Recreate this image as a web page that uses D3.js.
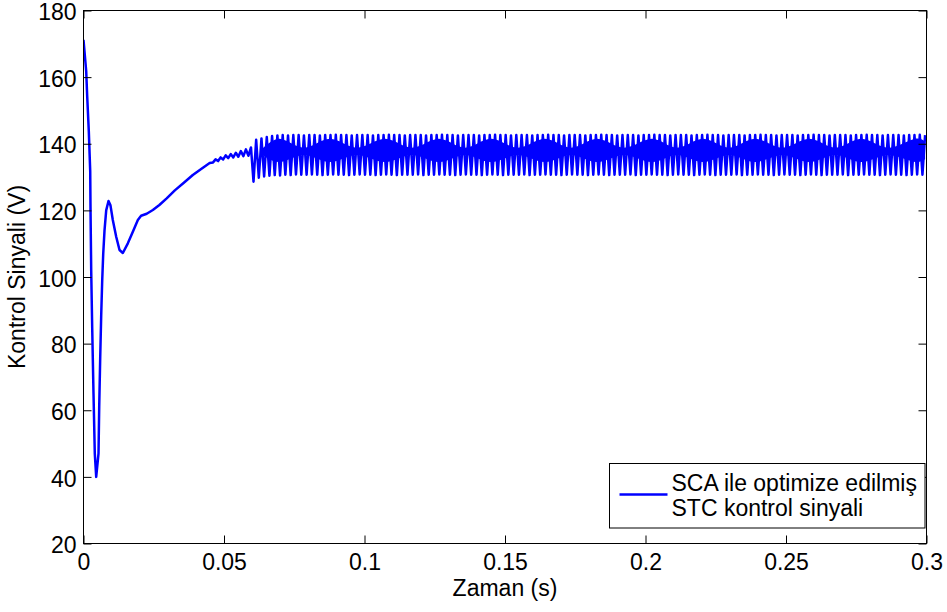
<!DOCTYPE html>
<html>
<head>
<meta charset="utf-8">
<script src="https://cdn.jsdelivr.net/npm/d3@7"></script>
<style>
  body { margin: 0; background: #fff; }
  text { font-family: Arial, "Liberation Sans", Helvetica, sans-serif; }
</style>
</head>
<body>
<div id="chart"></div>
<script>
const xTicks = [0, 0.05, 0.1, 0.15, 0.2, 0.25, 0.3];
const yTicks = [20, 40, 60, 80, 100, 120, 140, 160, 180];

// transient part of the control signal (0 - 0.06 s)
const transientTime = [
  0, 0.00096, 0.00132, 0.00189, 0.00239, 0.00249, 0.00274, 0.0031, 0.00356, 0.00402,
  0.00452, 0.00534, 0.00559, 0.00595, 0.0063, 0.00666, 0.00702, 0.00748, 0.00808, 0.0089,
  0.0096, 0.01043, 0.01164, 0.01282, 0.014, 0.01578, 0.01756, 0.01934, 0.0205, 0.0225,
  0.02468, 0.027, 0.0296, 0.0325, 0.0356, 0.0389, 0.042, 0.0449, 0.0461, 0.047,
  0.0479, 0.0488, 0.0497, 0.0506, 0.0515, 0.0524, 0.0533, 0.0542, 0.0551, 0.056,
  0.0569, 0.0578, 0.0587, 0.0596
];
const transientValue = [
  171.2, 161.8, 154.2, 143.7, 131.7, 121, 102, 84.6, 65, 47,
  40, 47, 61, 76, 88.5, 99, 107, 114, 120, 122.8,
  121.5, 117.1, 112.1, 108.1, 107.2, 110.1, 113.6, 117.1, 118.4, 119,
  120.1, 121.6, 123.6, 126, 128.2, 130.6, 132.5, 134.2, 134.4, 135.3,
  134.8, 135.9, 135.3, 136.5, 135.7, 136.9, 135.9, 137.3, 136.1, 137.8,
  136.3, 138.3, 136.4, 138.9
];

// steady-state oscillation: one low/high pair per cycle (0.0605 - 0.2995 s)
const oscStart = 0.0605;
const oscEnd = 0.2995;
const oscLow = [
  128.6, 129.8, 130.2, 130.4, 130.6, 130.5, 130.7, 130.6, 130.8, 130.7,
  130.7, 130.8, 130.7, 130.6, 130.7, 130.8, 130.7, 130.7, 130.6, 130.7,
  130.8, 130.7, 130.7, 130.6, 130.7, 130.8, 130.7, 130.6, 130.7, 130.7,
  130.7, 130.8, 130.6, 130.7, 130.7, 130.8, 130.7, 130.7, 130.6, 130.7,
  130.8, 130.7, 130.7, 130.6, 130.7, 130.8, 130.7, 130.6, 130.7, 130.7,
  130.7, 130.8, 130.6, 130.7, 130.7, 130.8, 130.7, 130.7, 130.6, 130.7,
  130.8, 130.7, 130.7, 130.6, 130.7, 130.8, 130.7, 130.6, 130.7, 130.7,
  130.7, 130.8, 130.6, 130.7, 130.7, 130.8, 130.7, 130.7, 130.6, 130.7,
  130.8, 130.7, 130.7, 130.6, 130.7, 130.8, 130.7, 130.6, 130.7, 130.7,
  130.7, 130.8, 130.6, 130.7, 130.7, 130.8, 130.7, 130.7, 130.6, 130.7,
  130.8, 130.7, 130.7, 130.6, 130.7, 130.8, 130.7, 130.6, 130.7, 130.7,
  130.7, 130.8, 130.6, 130.7, 130.7, 130.8, 130.7, 130.7, 130.6, 130.7,
  130.8, 130.7, 130.7, 130.6, 130.7, 130.8, 130.7
];
const oscHigh = [
  141.2, 141.6, 142.0, 142.3, 142.5, 142.6, 142.5, 142.6, 142.6, 142.5,
  142.6, 142.6, 142.5, 142.6, 142.6, 142.7, 142.6, 142.6, 142.5, 142.6,
  142.6, 142.6, 142.5, 142.6, 142.6, 142.7, 142.6, 142.6, 142.5, 142.6,
  142.6, 142.6, 142.5, 142.6, 142.6, 142.7, 142.6, 142.6, 142.5, 142.6,
  142.6, 142.6, 142.5, 142.6, 142.6, 142.7, 142.6, 142.6, 142.5, 142.6,
  142.6, 142.6, 142.5, 142.6, 142.6, 142.7, 142.6, 142.6, 142.5, 142.6,
  142.6, 142.6, 142.5, 142.6, 142.6, 142.7, 142.6, 142.6, 142.5, 142.6,
  142.6, 142.6, 142.5, 142.6, 142.6, 142.7, 142.6, 142.6, 142.5, 142.6,
  142.6, 142.6, 142.5, 142.6, 142.6, 142.7, 142.6, 142.6, 142.5, 142.6,
  142.6, 142.6, 142.5, 142.6, 142.6, 142.7, 142.6, 142.6, 142.5, 142.6,
  142.6, 142.6, 142.5, 142.6, 142.6, 142.7, 142.6, 142.6, 142.5, 142.6,
  142.6, 142.6, 142.5, 142.6, 142.6, 142.7, 142.6, 142.6, 142.5, 142.6,
  142.6, 142.6, 142.5, 142.6, 142.6, 142.7, 142.6
];

// dense (beating) core of the oscillation band
const coreTime = [
  0.0635, 0.0696, 0.0785, 0.0877, 0.0973, 0.1073, 0.1169, 0.1265, 0.1358, 0.145,
  0.1546, 0.1642, 0.1735, 0.1828, 0.1924, 0.2023, 0.2112, 0.2205, 0.2298, 0.239,
  0.2487, 0.2583, 0.2676, 0.2768, 0.2864, 0.296, 0.2995
];
const coreHigh = [
  138.4, 141.5, 138.8, 141.5, 138.8, 141.5, 138.8, 141.5, 138.8, 141.5,
  138.8, 141.5, 138.8, 141.5, 138.8, 141.5, 138.8, 141.5, 138.8, 141.5,
  138.8, 141.5, 138.8, 141.5, 138.8, 141.5, 140.6
];
const coreLow = [
  136.8, 134.5, 136.6, 134.5, 136.6, 134.5, 136.6, 134.5, 136.6, 134.5,
  136.6, 134.5, 136.6, 134.5, 136.6, 134.5, 136.6, 134.5, 136.6, 134.5,
  136.6, 134.5, 136.6, 134.5, 136.6, 134.5, 135.4
];

const legendLines = ['SCA ile optimize edilmiş', 'STC kontrol sinyali'];

const width = 947;
const height = 612;
const margin = { top: 10.5, right: 20.5, bottom: 68.5, left: 83.5 };
const fontSize = 23;

const svg = d3.select('#chart').append('svg').attr('width', width).attr('height', height);

const x = d3.scaleLinear().domain([0, 0.3]).range([margin.left, width - margin.right]);
const y = d3.scaleLinear().domain([20, 180]).range([height - margin.bottom, margin.top]);

// oscillation cycle index -> time
const cycle = d3.scaleLinear().domain([0, oscLow.length - 0.5]).range([oscStart, oscEnd]);

const points = transientTime.map((t, i) => [t, transientValue[i]]);
oscLow.forEach((v, i) => {
  points.push([cycle(i), v]);
  points.push([cycle(i + 0.5), oscHigh[i]]);
});

svg.append('clipPath').attr('id', 'plot-clip')
  .append('rect')
  .attr('x', x(0)).attr('y', y(180))
  .attr('width', x(0.3) - x(0)).attr('height', y(20) - y(180));

const plot = svg.append('g').attr('clip-path', 'url(#plot-clip)');

plot.append('path')
  .datum(coreTime.map((t, i) => [t, coreLow[i], coreHigh[i]]))
  .attr('fill', '#0000ff')
  .attr('d', d3.area()
    .x((d) => x(d[0]))
    .y0((d) => y(d[1]))
    .y1((d) => y(d[2]))
    .curve(d3.curveCardinal));

plot.append('path')
  .datum(points)
  .attr('fill', 'none')
  .attr('stroke', '#0000ff')
  .attr('stroke-width', 2.5)
  .attr('stroke-linejoin', 'round')
  .attr('d', d3.line().x((d) => x(d[0])).y((d) => y(d[1])));

// axes: ticks point inward on all four sides
const styleAxis = (g) => {
  g.select('.domain').remove();
  g.selectAll('line').attr('stroke', '#000');
  g.selectAll('text').attr('fill', '#000').attr('font-size', fontSize)
    .attr('font-family', 'Arial, "Liberation Sans", Helvetica, sans-serif');
};

svg.append('g')
  .attr('transform', `translate(0,${y(20)})`)
  .call(d3.axisBottom(x).tickValues(xTicks).tickFormat((d) => String(d))
    .tickSizeInner(-8).tickSizeOuter(0).tickPadding(10.5))
  .call(styleAxis);

svg.append('g')
  .attr('transform', `translate(0,${y(180)})`)
  .call(d3.axisTop(x).tickValues(xTicks).tickFormat('').tickSizeInner(-8).tickSizeOuter(0))
  .call(styleAxis);

svg.append('g')
  .attr('transform', `translate(${x(0)},0)`)
  .call(d3.axisLeft(y).tickValues(yTicks).tickSizeInner(-8).tickSizeOuter(0).tickPadding(7))
  .call(styleAxis)
  .call((g) => g.selectAll('text').attr('dy', '0.4em'));

svg.append('g')
  .attr('transform', `translate(${x(0.3)},0)`)
  .call(d3.axisRight(y).tickValues(yTicks).tickFormat('').tickSizeInner(-8).tickSizeOuter(0))
  .call(styleAxis);

svg.append('rect')
  .attr('x', x(0)).attr('y', y(180))
  .attr('width', x(0.3) - x(0)).attr('height', y(20) - y(180))
  .attr('fill', 'none').attr('stroke', '#000');

// axis titles
svg.append('text')
  .attr('x', (x(0) + x(0.3)) / 2)
  .attr('y', 596)
  .attr('text-anchor', 'middle')
  .attr('font-size', fontSize)
  .text('Zaman (s)');

svg.append('text')
  .attr('transform', `translate(24.5,${(y(20) + y(180)) / 2}) rotate(-90)`)
  .attr('text-anchor', 'middle')
  .attr('font-size', fontSize)
  .text('Kontrol Sinyali (V)');

// legend
const legend = svg.append('g').attr('transform', 'translate(609.5,463.5)');
legend.append('rect')
  .attr('width', 315.5).attr('height', 64.5)
  .attr('fill', '#fff').attr('stroke', '#000');
legend.append('line')
  .attr('x1', 10).attr('x2', 58).attr('y1', 31).attr('y2', 31)
  .attr('stroke', '#0000ff').attr('stroke-width', 2.5);
legend.selectAll('text.item')
  .data(legendLines)
  .enter()
  .append('text')
  .attr('class', 'item')
  .attr('x', 62)
  .attr('y', (d, i) => 27.5 + i * 24.5)
  .attr('font-size', fontSize)
  .text((d) => d);
</script>
</body>
</html>
